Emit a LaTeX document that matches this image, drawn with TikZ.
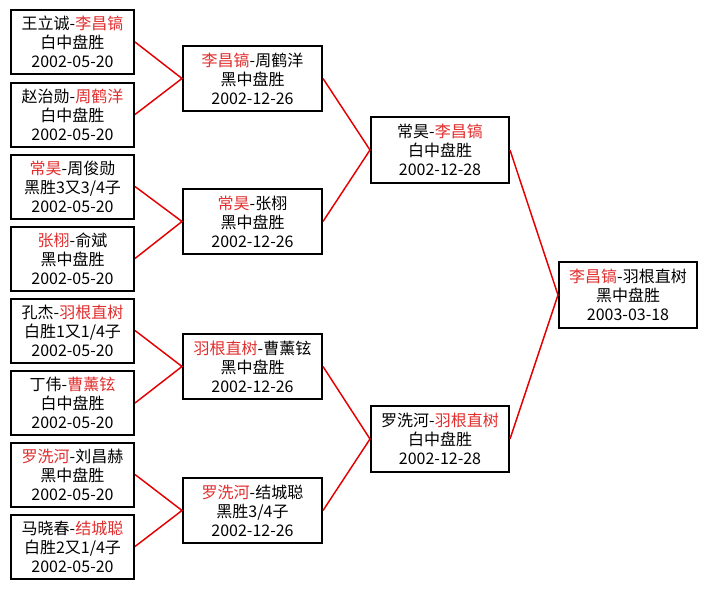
\documentclass[tikz,border=0pt]{standalone}
\usepackage{fontspec}
\usepackage{xcolor}
\setmainfont{Noto Sans CJK SC}
\usepackage{tikz}
\definecolor{clrName}{RGB}{226,46,46}
\definecolor{clrLine}{RGB}{228,0,0}
\newcommand{\win}[1]{\textcolor{clrName}{#1}}
\tikzset{
  game/.style={rectangle,draw=black,line width=1.5pt,fill=white,
    font=\fontsize{12}{14.3}\selectfont,align=center,inner sep=0pt,
    minimum width=103.5pt,minimum height=49pt},
  first/.style={game,minimum width=92.25pt,minimum height=48pt},
  link/.style={draw=clrLine,line width=1.1pt}
}
\begin{document}
\begin{tikzpicture}[x=0.75pt,y=-0.75pt]
  \useasboundingbox[fill=white] (0,0) rectangle (708,589);
  % first round
  \node[first] (a1) at (72.5,42)    {王立诚-\win{李昌镐}\\白中盘胜\\2002-05-20};
  \node[first] (a2) at (72.5,114.5) {赵治勋-\win{周鹤洋}\\白中盘胜\\2002-05-20};
  \node[first] (a3) at (72.5,186.5) {\win{常昊}-周俊勋\\黑胜3又3/4子\\2002-05-20};
  \node[first] (a4) at (72.5,258.5) {\win{张栩}-俞斌\\黑中盘胜\\2002-05-20};
  \node[first] (a5) at (72.5,330.5) {孔杰-\win{羽根直树}\\白胜1又1/4子\\2002-05-20};
  \node[first] (a6) at (72.5,403)   {丁伟-\win{曹薰铉}\\白中盘胜\\2002-05-20};
  \node[first] (a7) at (72.5,474.5) {\win{罗洗河}-刘昌赫\\黑中盘胜\\2002-05-20};
  \node[first] (a8) at (72.5,546.5) {马晓春-\win{结城聪}\\白胜2又1/4子\\2002-05-20};
  % quarter finals
  \node[game,minimum width=104.25pt] (b1) at (252.5,78.5)
    {\win{李昌镐}-周鹤洋\\黑中盘胜\\2002-12-26};
  \node[game,minimum width=104.25pt] (b2) at (252.5,221.5)
    {\win{常昊}-张栩\\黑中盘胜\\2002-12-26};
  \node[game,minimum width=104.25pt] (b3) at (252.5,366.5)
    {\win{羽根直树}-曹薰铉\\黑中盘胜\\2002-12-26};
  \node[game,minimum width=104.25pt] (b4) at (252.5,510.5)
    {\win{罗洗河}-结城聪\\黑胜3/4子\\2002-12-26};
  % semi finals
  \node[game] (c1) at (440,150) {常昊-\win{李昌镐}\\白中盘胜\\2002-12-28};
  \node[game] (c2) at (440,439) {罗洗河-\win{羽根直树}\\白中盘胜\\2002-12-28};
  % final
  \node[game] (d1) at (628,295) {\win{李昌镐}-羽根直树\\黑中盘胜\\2003-03-18};
  % connectors
  \draw[link] (a1.east) -- (b1.west) -- (a2.east);
  \draw[link] (a3.east) -- (b2.west) -- (a4.east);
  \draw[link] (a5.east) -- (b3.west) -- (a6.east);
  \draw[link] (a7.east) -- (b4.west) -- (a8.east);
  \draw[link] (b1.east) -- (c1.west) -- (b2.east);
  \draw[link] (b3.east) -- (c2.west) -- (b4.east);
  \draw[link] (c1.east) -- (d1.west) -- (c2.east);
\end{tikzpicture}
\end{document}
